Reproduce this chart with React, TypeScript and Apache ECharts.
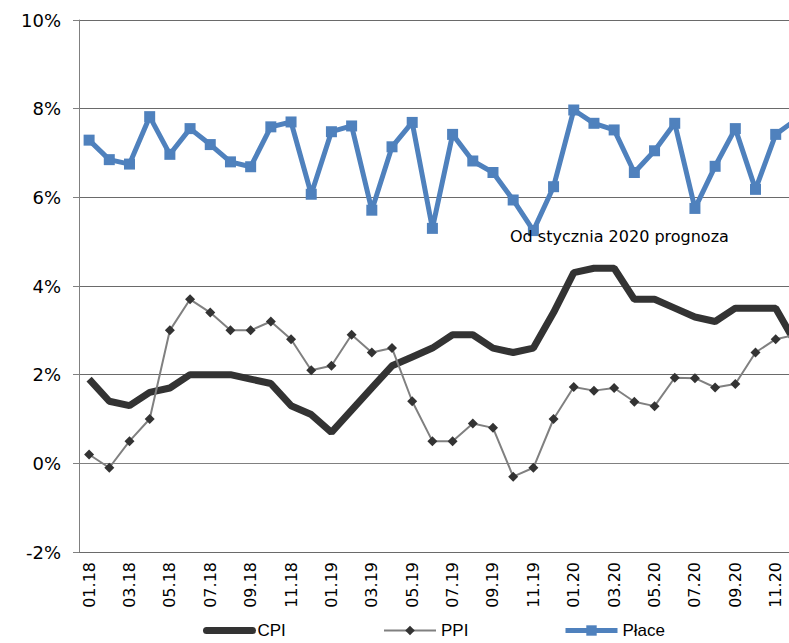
import React, { useEffect, useRef } from "react";
import * as echarts from "echarts";

const months: string[] = [
  "01.18","02.18","03.18","04.18","05.18","06.18","07.18","08.18","09.18","10.18","11.18","12.18",
  "01.19","02.19","03.19","04.19","05.19","06.19","07.19","08.19","09.19","10.19","11.19","12.19",
  "01.20","02.20","03.20","04.20","05.20","06.20","07.20","08.20","09.20","10.20","11.20","12.20",
];

const cpi: number[] = [
  1.9, 1.4, 1.3, 1.6, 1.7, 2.0, 2.0, 2.0, 1.9, 1.8, 1.3, 1.1,
  0.7, 1.2, 1.7, 2.2, 2.4, 2.6, 2.9, 2.9, 2.6, 2.5, 2.6, 3.4,
  4.3, 4.4, 4.4, 3.7, 3.7, 3.5, 3.3, 3.2, 3.5, 3.5, 3.5, 2.7,
];

const ppi: number[] = [
  0.2, -0.1, 0.5, 1.0, 3.0, 3.7, 3.4, 3.0, 3.0, 3.2, 2.8, 2.1,
  2.2, 2.9, 2.5, 2.6, 1.4, 0.5, 0.5, 0.9, 0.8, -0.3, -0.1, 1.0,
  1.72, 1.64, 1.7, 1.39, 1.29, 1.93, 1.92, 1.71, 1.79, 2.5, 2.8, 2.9,
];

const place: number[] = [
  7.29, 6.85, 6.75, 7.82, 6.97, 7.55, 7.19, 6.8, 6.69, 7.59, 7.7, 6.07,
  7.48, 7.61, 5.71, 7.14, 7.69, 5.3, 7.42, 6.82, 6.56, 5.94, 5.25, 6.24,
  7.97, 7.67, 7.52, 6.56, 7.05, 7.67, 5.75, 6.7, 7.55, 6.18, 7.42, 7.75,
];

const yTicks = { min: -2, max: 10, interval: 2 };
const noteText = "Od stycznia 2020 prognoza";

export default function App() {
  const ref = useRef<HTMLDivElement>(null);
  useEffect(() => {
    if (!ref.current) return;
    const chart = echarts.init(ref.current, null, { renderer: "svg" });
    const font = "DejaVu Sans";
    const legendText = {
      fontFamily: "Liberation Sans",
      fontSize: 17,
      color: "#000",
    };
    const legendBase = {
      top: 622,
      padding: 0,
      itemHeight: 12,
      textStyle: legendText,
    };
    chart.setOption({
      animation: false,
      backgroundColor: "#ffffff",
      grid: { left: 79, top: 20, bottom: 91, right: 0, containLabel: false },
      legend: [
        {
          ...legendBase,
          left: 203,
          itemWidth: 46,
          data: [
            {
              name: "CPI",
              itemStyle: { color: "rgba(0,0,0,0)", borderWidth: 0 },
              lineStyle: { color: "#333333", width: 7, cap: "round" },
            },
          ],
        },
        {
          ...legendBase,
          left: 383,
          itemWidth: 52,
          data: [{ name: "PPI", lineStyle: { color: "#808080", width: 2 } }],
        },
        {
          ...legendBase,
          left: 563,
          itemWidth: 52,
          itemHeight: 13,
          data: [{ name: "Płace", lineStyle: { color: "#4F81BD", width: 5 } }],
        },
      ],
      xAxis: {
        type: "category",
        data: months,
        boundaryGap: true,
        axisLine: { lineStyle: { color: "#808080", width: 1 } },
        axisTick: { show: false },
        axisLabel: {
          rotate: 90,
          interval: 1,
          fontFamily: font,
          fontSize: 16,
          color: "#000",
          margin: 10,
        },
      },
      yAxis: {
        type: "value",
        min: yTicks.min,
        max: yTicks.max,
        interval: yTicks.interval,
        axisLine: { show: true, lineStyle: { color: "#808080", width: 1 } },
        axisTick: { show: true, inside: false, length: 6, lineStyle: { color: "#808080" } },
        splitLine: { show: true, lineStyle: { color: "#6a6a6a", width: 1 } },
        axisLabel: {
          formatter: "{value}%",
          fontFamily: font,
          fontSize: 18,
          color: "#000",
          margin: 18,
        },
      },
      graphic: [
        {
          type: "text",
          left: 510,
          top: 228,
          style: { text: noteText, fontFamily: font, fontSize: 16, fill: "#000" },
          z: 100,
        },
      ],
      series: [
        {
          name: "CPI",
          type: "line",
          data: cpi,
          symbol: "none",
          lineStyle: { color: "#333333", width: 7 },
          itemStyle: { color: "#333333" },
          z: 2,
        },
        {
          name: "PPI",
          type: "line",
          data: ppi,
          symbol: "diamond",
          symbolSize: 10,
          showAllSymbol: true,
          lineStyle: { color: "#808080", width: 2 },
          itemStyle: { color: "#333333", borderWidth: 0 },
          z: 3,
        },
        {
          name: "Płace",
          type: "line",
          data: place,
          symbol: "rect",
          symbolSize: 11,
          showAllSymbol: true,
          lineStyle: { color: "#4F81BD", width: 5 },
          itemStyle: { color: "#4F81BD", borderWidth: 0 },
          z: 4,
        },
      ],
    });
    return () => chart.dispose();
  }, []);
  return (
    <div
      style={{
        position: "absolute",
        left: 0,
        top: 0,
        width: 789,
        height: 643,
        overflow: "hidden",
        background: "#fff",
      }}
    >
      <div ref={ref} style={{ width: 806, height: 643 }} />
    </div>
  );
}
